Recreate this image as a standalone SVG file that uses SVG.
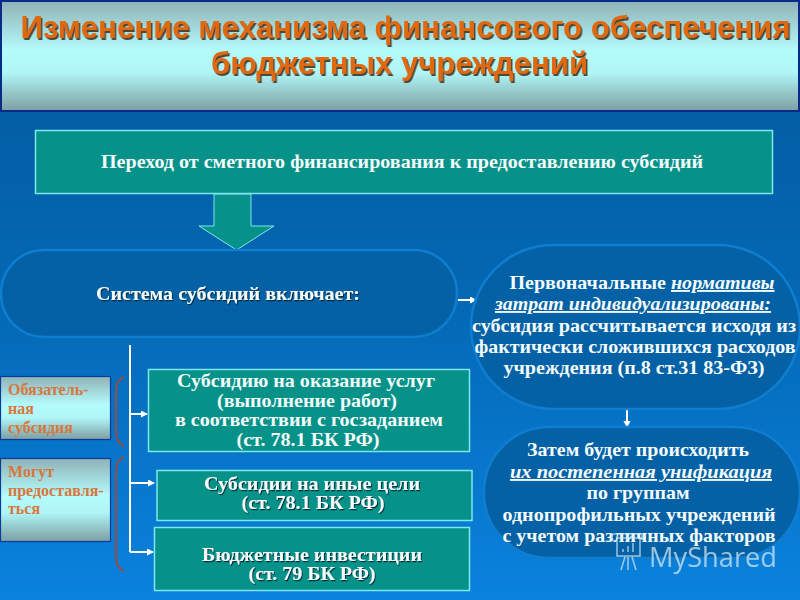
<svg xmlns="http://www.w3.org/2000/svg" width="800" height="600" viewBox="0 0 800 600">
<style>
.t{font-family:"Liberation Serif","Noto Sans",serif;font-weight:bold;text-anchor:middle;fill:#f4fbfb}
.w{font-size:19px}
.s{filter:url(#sh)}
.box{fill:#069288;stroke:#7fe6ee;stroke-width:1.5}
.pill{fill:#0561a6;stroke:#0f7dd0;stroke-width:2.5}
.side{stroke:#0a3a9a;stroke-width:1.2}
.o{font-family:"Liberation Serif",serif;font-weight:bold;font-size:16px;fill:#d9763c}
.ti{font-family:"Liberation Sans",sans-serif;font-weight:bold;font-size:31px;text-anchor:middle;fill:#e0690e;filter:url(#ts)}
.c{stroke:#fff;stroke-width:2;fill:none}
.b{stroke:#8a5050;stroke-width:2.2;fill:none}
</style>
<defs>
<linearGradient id="bg" x1="0" y1="0" x2="0" y2="1"><stop offset="0" stop-color="#03589c"/><stop offset=".5" stop-color="#0468b4"/><stop offset="1" stop-color="#0a82de"/></linearGradient>
<linearGradient id="hd" x1="0" y1="0" x2="0" y2="1"><stop offset="0" stop-color="#8fb2b6"/><stop offset=".45" stop-color="#b4fbfc"/><stop offset=".65" stop-color="#b0f6f6"/><stop offset="1" stop-color="#7d9ea2"/></linearGradient>
<filter id="ts" x="-5%" y="-20%" width="110%" height="150%"><feDropShadow dx="1.5" dy="2" stdDeviation=".6" flood-color="#4a4a3a"/></filter>
<filter id="sh" x="-5%" y="-20%" width="110%" height="150%"><feDropShadow dx="1" dy="1.2" stdDeviation=".3" flood-color="#062a3a"/></filter>
<marker id="a" markerWidth="8" markerHeight="8" refX="6" refY="3.500" orient="auto" markerUnits="userSpaceOnUse"><path d="M0 0L7 3.500L0 7Z" fill="#fff"/></marker>
</defs>
<rect width="800" height="600" fill="url(#bg)"/>
<g id="title"><rect x="1" y="1" width="798" height="110" fill="url(#hd)" stroke="#0a2a8a" stroke-width="2"/>
<text class="ti" x="405.500" y="38" textLength="770" lengthAdjust="spacingAndGlyphs">Изменение механизма финансового обеспечения</text>
<text class="ti" x="399.500" y="74" textLength="377" lengthAdjust="spacingAndGlyphs">бюджетных учреждений</text></g>
<g id="connectors">
<path d="M214 194V226H199L236.500 250L274 226H251V194Z" fill="#069288" stroke="#7fe6ee" stroke-width="1"/>
<path class="c" d="M130 345V552"/>
<path class="c" d="M130 414H147" marker-end="url(#a)"/>
<path class="c" d="M130 483H154" marker-end="url(#a)"/>
<path class="c" d="M130 552H153" marker-end="url(#a)"/>
<path class="c" d="M458 300H476" marker-end="url(#a)"/>
<path class="c" d="M627 407V427" marker-end="url(#a)"/>
<path class="b" d="M124 377Q116 380 116 392V431Q116 443 124 446"/>
<path class="b" d="M124 457Q116 460 116 472V556Q116 568 124 571"/>
</g>
<g id="n1"><rect class="box" x="35.500" y="130.500" width="737" height="63"/><text class="t" x="402" y="168" font-size="19" textLength="602" lengthAdjust="spacingAndGlyphs">Переход от сметного финансирования к предоставлению субсидий</text></g>
<g id="n2"><rect class="pill" x="1" y="250" width="456" height="87" rx="43" ry="43"/><text class="t w s" x="228" y="300" textLength="264" lengthAdjust="spacingAndGlyphs">Система субсидий включает:</text></g>
<g id="n3"><rect class="pill" x="471" y="245" width="329" height="164" rx="82" ry="82"/>
<g class="t w"><text x="642" y="289" textLength="265" lengthAdjust="spacingAndGlyphs">Первоначальные <tspan font-style="italic" text-decoration="underline">нормативы</tspan></text>
<text x="633" y="310" font-style="italic" text-decoration="underline" textLength="276" lengthAdjust="spacingAndGlyphs">затрат индивидуализированы:</text>
<text x="634" y="332" textLength="324" lengthAdjust="spacingAndGlyphs">субсидия рассчитывается исходя из</text>
<text x="635" y="353" textLength="321" lengthAdjust="spacingAndGlyphs">фактически сложившихся расходов</text>
<text x="634" y="374" textLength="261" lengthAdjust="spacingAndGlyphs">учреждения (п.8 ст.31 83-ФЗ)</text></g></g>
<g id="n4"><rect class="pill" x="484" y="427" width="316" height="131" rx="65" ry="65"/>
<g class="t w"><text x="638" y="456" textLength="222" lengthAdjust="spacingAndGlyphs">Затем будет происходить</text>
<text x="641" y="478" font-style="italic" text-decoration="underline" textLength="262" lengthAdjust="spacingAndGlyphs">их постепенная унификация </text>
<text x="638" y="499" textLength="103" lengthAdjust="spacingAndGlyphs">по группам</text>
<text x="639" y="521" textLength="273" lengthAdjust="spacingAndGlyphs">однопрофильных учреждений</text>
<text x="639" y="542" textLength="273" lengthAdjust="spacingAndGlyphs">с учетом различных факторов</text></g></g>
<g id="n5"><rect class="box" x="148.500" y="369.500" width="321" height="82"/>
<g class="t w"><text x="306" y="387" textLength="258" lengthAdjust="spacingAndGlyphs">Субсидию на оказание услуг</text>
<text x="307" y="407" textLength="180" lengthAdjust="spacingAndGlyphs">(выполнение работ)</text>
<text x="309" y="426" textLength="268" lengthAdjust="spacingAndGlyphs">в соответствии с госзаданием</text>
<text x="308" y="446" textLength="143" lengthAdjust="spacingAndGlyphs">(ст. 78.1 БК РФ)</text></g></g>
<g id="n6"><rect class="box" x="157" y="470.500" width="315" height="50"/>
<g class="t w s"><text x="312" y="490" textLength="216" lengthAdjust="spacingAndGlyphs">Субсидии на иные цели</text><text x="313" y="509" textLength="143" lengthAdjust="spacingAndGlyphs">(ст. 78.1 БК РФ)</text></g></g>
<g id="n7"><rect class="box" x="154.500" y="527.500" width="315" height="63"/>
<g class="t w s"><text x="312" y="561" textLength="220" lengthAdjust="spacingAndGlyphs">Бюджетные инвестиции</text><text x="312" y="580" textLength="127" lengthAdjust="spacingAndGlyphs">(ст. 79 БК РФ)</text></g></g>
<g id="s1"><rect class="side" x="0.500" y="376.500" width="110" height="63" fill="url(#hd)"/>
<text class="o" x="8" y="395">Обязатель-</text><text class="o" x="8" y="414">ная</text><text class="o" x="8" y="433">субсидия</text></g>
<g id="s2"><rect class="side" x="0.500" y="458.500" width="110" height="83" fill="url(#hd)"/>
<text class="o" x="8" y="477">Могут</text><text class="o" x="8" y="496">предоставля-</text><text class="o" x="8" y="514">ться</text></g>
<g id="watermark" opacity=".75"><path d="M612 540V534H642V540M617 538H640V556H617ZM623 552V549M628 552V546M633 552V543M625 557L621 570M632 557L636 570M628 557V570" fill="none" stroke="#cfe6f2" stroke-width="1.500"/>
<text x="649" y="567" font-family="'Open Sans','Liberation Sans',sans-serif" font-size="27" fill="#cfe6f2" textLength="128" lengthAdjust="spacingAndGlyphs">MyShared</text></g>
</svg>
